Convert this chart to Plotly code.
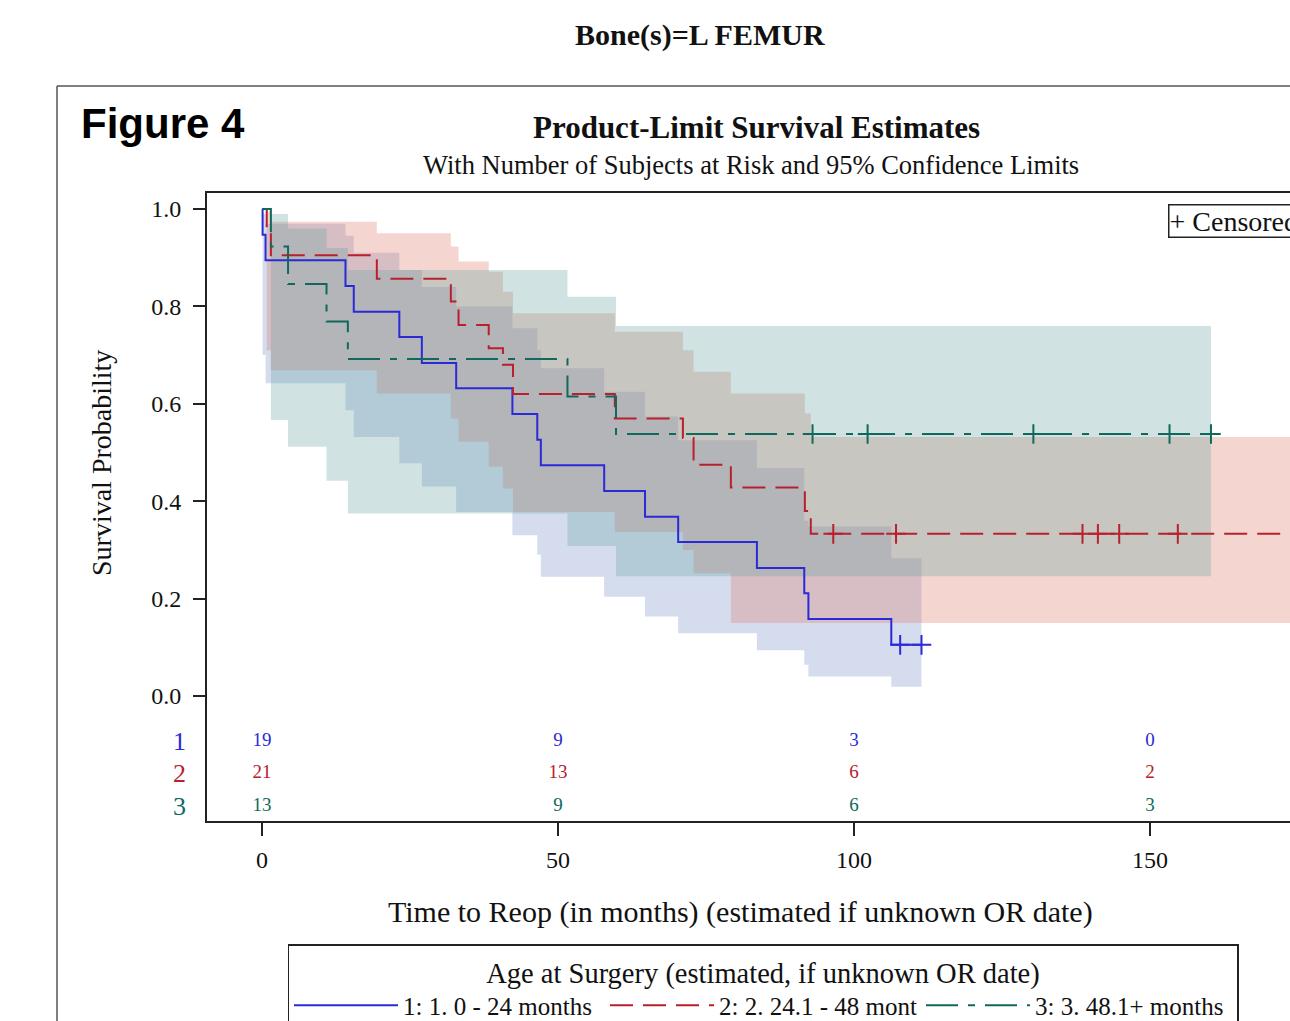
import plotly.graph_objects as go

# ---------------- data ----------------
blue_t = [0, 0.1, 0.6, 14.1, 15.5, 23.2, 27.0, 32.8, 42.3, 46.5, 47.1, 57.8, 64.7, 70.3, 83.6, 91.6, 92.3, 106.3, 111.4]
blue_s = [1.0, 0.947, 0.895, 0.842, 0.789, 0.737, 0.684, 0.632, 0.579, 0.526, 0.474, 0.421, 0.368, 0.316, 0.263, 0.211, 0.158, 0.105, 0.105]
blue_lo = [1.0, 0.70, 0.642, 0.587, 0.532, 0.478, 0.430, 0.378, 0.33, 0.29, 0.245, 0.204, 0.163, 0.129, 0.094, 0.064, 0.040, 0.019, 0.019]
blue_hi = [1.0, 0.99, 0.97, 0.945, 0.91, 0.875, 0.84, 0.80, 0.755, 0.71, 0.673, 0.625, 0.574, 0.525, 0.468, 0.36, 0.348, 0.283, 0.283]
blue_cens = [107.8, 111.4]

red_t = [0, 0.8, 1.5, 19.4, 31.9, 33.2, 38.3, 40.7, 42.4, 59.6, 71.1, 72.9, 79.2, 91.7, 92.7, 176.0]
red_s = [1.0, 0.952, 0.905, 0.857, 0.810, 0.762, 0.714, 0.68, 0.62, 0.57, 0.53, 0.475, 0.428, 0.38, 0.333, 0.333]
red_hi = [1.0, 0.995, 0.974, 0.95, 0.923, 0.892, 0.871, 0.83, 0.786, 0.748, 0.71, 0.666, 0.621, 0.58, 0.532, 0.532]
red_lo = [1.0, 0.71, 0.669, 0.621, 0.570, 0.522, 0.471, 0.426, 0.378, 0.337, 0.30, 0.252, 0.15, 0.15, 0.15, 0.15]
red_cens = [96.5, 107.1, 138.6, 141.2, 144.8, 154.7, 176.0]

green_t = [0, 1.5, 4.4, 10.9, 14.5, 51.6, 59.8, 160.3]
green_s = [1.0, 0.923, 0.846, 0.769, 0.692, 0.615, 0.538, 0.538]
green_hi = [1.0, 0.99, 0.96, 0.92, 0.875, 0.82, 0.76, 0.76]
green_lo = [1.0, 0.567, 0.512, 0.442, 0.375, 0.308, 0.246, 0.246]
green_cens = [93.0, 102.3, 130.3, 153.3, 160.3]

risk_times = [0, 50, 100, 150]
blue_risk = [19, 9, 3, 0]
red_risk = [21, 13, 6, 2]
green_risk = [13, 9, 6, 3]

group_ids = ["1", "2", "3"]
group_names = ["1: 1. 0 - 24 months", "2: 2. 24.1 - 48 mont", "3: 3. 48.1+ months"]

# ---------------- styles ----------------
SERIF = "Liberation Serif, Times New Roman, serif"
line_cols = ["#2a2ad8", "#b8202e", "#10695c"]
band_cols = ["rgba(124,149,202,0.33)", "rgba(222,126,111,0.33)", "rgba(102,165,160,0.31)"]
dashes = ["solid", "23px,10px", "32px,10px,7px,10px"]

W, H = 1290, 1021
L, R, T, B = 207, 0, 193, 200
PW, PH = W - L - R, H - T - B
X0, X1 = -9.29, 173.65
Y0, Y1 = -0.2567, 1.0329


def px(x):
    return (x - L) / PW


def py(y):
    return (H - B - y) / PH


def surv_at(ts, ss, t):
    v = ss[0]
    for ti, si in zip(ts, ss):
        if ti <= t:
            v = si
    return v


groups = [
    (blue_t, blue_s, blue_lo, blue_hi, blue_cens, blue_risk),
    (red_t, red_s, red_lo, red_hi, red_cens, red_risk),
    (green_t, green_s, green_lo, green_hi, green_cens, green_risk),
]

fig = go.Figure()

# confidence bands
for i, (t, s, lo, hi, c, rk) in enumerate(groups):
    fig.add_trace(go.Scatter(x=t, y=lo, mode="lines", line=dict(width=0, shape="hv"),
                             showlegend=False, hoverinfo="skip"))
    fig.add_trace(go.Scatter(x=t, y=hi, mode="lines", line=dict(width=0, shape="hv"),
                             fill="tonexty", fillcolor=band_cols[i],
                             showlegend=False, hoverinfo="skip"))

# survival step curves
for i, (t, s, lo, hi, c, rk) in enumerate(groups):
    fig.add_trace(go.Scatter(x=t, y=s, mode="lines", name=group_names[i],
                             line=dict(color=line_cols[i], width=2, shape="hv", dash=dashes[i])))

# censored marks
for i, (t, s, lo, hi, c, rk) in enumerate(groups):
    fig.add_trace(go.Scatter(x=c, y=[surv_at(t, s, ci) for ci in c], mode="markers",
                             marker=dict(symbol="cross-thin", size=14,
                                         line=dict(color=line_cols[i], width=2)),
                             showlegend=False, hoverinfo="skip"))

# numbers at risk
risk_rows = [-0.092, -0.158, -0.226]
for i, (t, s, lo, hi, c, rk) in enumerate(groups):
    fig.add_trace(go.Scatter(x=risk_times, y=[risk_rows[i]] * len(risk_times), mode="text",
                             text=[str(v) for v in rk],
                             textfont=dict(family=SERIF, size=19, color=line_cols[i]),
                             showlegend=False, hoverinfo="skip"))

annotations = [
    dict(text="<b>Bone(s)=L FEMUR</b>", x=px(700), y=py(35), font=dict(family=SERIF, size=30, color="#111")),
    dict(text="<b>Figure 4</b>", x=px(79), y=py(124), xanchor="left",
         font=dict(family="Liberation Sans, Arial, sans-serif", size=42, color="#000")),
    dict(text="<b>Product-Limit Survival Estimates</b>", x=px(756), y=py(128),
         font=dict(family=SERIF, size=31, color="#111")),
    dict(text="With Number of Subjects at Risk and 95% Confidence Limits", x=px(751), y=py(165),
         font=dict(family=SERIF, size=26.5, color="#111")),
    dict(text="Survival Probability", x=px(101), y=py(463), textangle=-90,
         font=dict(family=SERIF, size=28, color="#111")),
    dict(text="Time to Reop (in months) (estimated if unknown OR date)", x=px(740), y=py(912),
         font=dict(family=SERIF, size=30, color="#111")),
    dict(text="+ Censored", x=px(1168), y=py(204), xanchor="left", yanchor="top",
         font=dict(family=SERIF, size=28, color="#111"), bordercolor="#222", borderwidth=1.5,
         borderpad=0, bgcolor="white"),
]
for i, gid in enumerate(group_ids):
    annotations.append(dict(text=gid, x=px(179), y=py([741, 773, 806][i]),
                            font=dict(family=SERIF, size=26, color=line_cols[i])))
for a in annotations:
    a.setdefault("xref", "paper")
    a.setdefault("yref", "paper")
    a.setdefault("showarrow", False)
    a.setdefault("xanchor", "center")
    a.setdefault("yanchor", "middle")

shapes = [
    dict(type="line", xref="paper", yref="paper", x0=px(57), x1=px(1300), y0=py(86), y1=py(86),
         line=dict(color="#555", width=1.5)),
    dict(type="line", xref="paper", yref="paper", x0=px(57), x1=px(57), y0=py(86), y1=py(1030),
         line=dict(color="#555", width=1.5)),
]

fig.update_layout(
    width=W, height=H,
    margin=dict(l=L, r=R, t=T, b=B, autoexpand=False),
    paper_bgcolor="white", plot_bgcolor="white",
    font=dict(family=SERIF, size=24, color="#111"),
    annotations=annotations, shapes=shapes,
    showlegend=True,
    legend=dict(orientation="h", x=px(763), y=py(944), xanchor="center", yanchor="top",
                traceorder="normal",
                bordercolor="#222", borderwidth=1.5, bgcolor="white",
                font=dict(family=SERIF, size=25, color="#111"),
                title=dict(text="Age at Surgery (estimated, if unknown OR date)", side="top center",
                           font=dict(family=SERIF, size=28.5, color="#111")),
                itemwidth=104, entrywidth=197, tracegroupgap=0),
)

fig.update_xaxes(range=[X0, X1], showgrid=False, zeroline=False,
                 showline=True, linecolor="#222", linewidth=2, mirror=True,
                 tickvals=risk_times, ticks="outside", ticklen=13, tickwidth=2, tickcolor="#222",
                 ticklabelstandoff=3,
                 tickfont=dict(family=SERIF, size=24, color="#111"))
fig.update_yaxes(range=[Y0, Y1], showgrid=False, zeroline=False,
                 showline=True, linecolor="#222", linewidth=2,
                 tickvals=[0, 0.2, 0.4, 0.6, 0.8, 1.0], tickformat=".1f",
                 ticks="outside", ticklen=12, tickwidth=2, tickcolor="#222", ticklabelstandoff=7,
                 tickfont=dict(family=SERIF, size=24, color="#111"))

fig.write_html("out.html", config={"displayModeBar": False},
               post_script="document.body.style.margin='0px';")
